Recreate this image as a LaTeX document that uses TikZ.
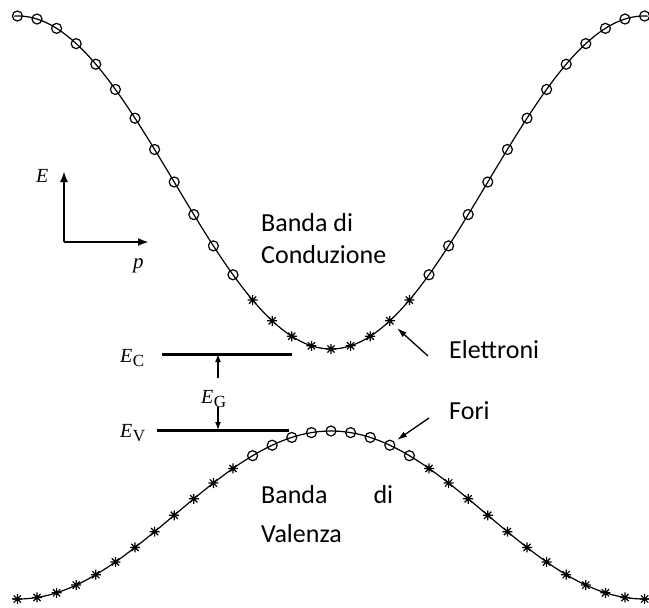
\documentclass[tikz,border=0pt]{standalone}
\usepackage{fontspec}
\setsansfont{Carlito}
\newfontfamily\timesfont{Liberation Serif}
\usetikzlibrary{arrows.meta}
\newcommand{\lev}[2]{\textit{#1}\kern0.5pt\raisebox{-4.5pt}{\fontsize{17}{17}\selectfont #2}}
\tikzset{
  >=Latex,
  band/.style={line width=1.2pt},
  level/.style={line width=3pt},
  axis/.style={->,line width=2pt,>={Latex[length=11pt,width=8pt]}},
  gaparr/.style={->,line width=1.5pt,>={Latex[length=8pt,width=6pt]}},
  pointer/.style={->,line width=1.3pt,>={Latex[length=10pt,width=6pt]}},
  lbl/.style={font=\sffamily\fontsize{26}{30}\selectfont,anchor=base west,inner sep=0pt},
  sym/.style={font=\timesfont\fontsize{20}{22}\selectfont,anchor=base west,inner sep=0pt},
  hole/.style={circle,draw,line width=1.2pt,minimum size=10pt,inner sep=0pt},
  elstar/.pic={
    \draw[line width=1.2pt] (-5,0) -- (5,0) (0,-5) -- (0,5)
      (-3.6,-3.6) -- (3.6,3.6) (-3.6,3.6) -- (3.6,-3.6);
  }
}

\begin{document}
\begin{tikzpicture}[x=1pt,y=-1pt]
  \useasboundingbox (0,0) rectangle (649,608);

  % bands (phase 180/313 deg per px)
  \draw[band] plot[domain=14:648,samples=140,smooth] (\x,{182.5+166.5*cos(0.57508*(\x-331))});
  \draw[band] plot[domain=12:649,samples=140,smooth] (\x,{515-84*cos(0.57508*(\x-331))});

  % carriers on the bands
  \foreach \i in {0,...,32}{
    \pgfmathsetmacro\px{17.4+19.6*\i}
    \pgfmathsetmacro\cy{182.5+166.5*cos(0.57508*(\px-331))}
    \pgfmathsetmacro\vy{515-84*cos(0.57508*(\px-331))}
    \pgfmathtruncatemacro\mid{(\i>11)&&(\i<21)}
    \ifnum\mid=1
      \pic (c\i) at (\px,\cy) {elstar};
      \node[hole] (v\i) at (\px,\vy) {};
    \else
      \node[hole] (c\i) at (\px,\cy) {};
      \pic (v\i) at (\px,\vy) {elstar};
    \fi
  }

  % axes
  \coordinate (origin) at (64,242);
  \coordinate (eaxis) at (64,171);
  \coordinate (paxis) at (149,242);
  \draw[axis] (origin) -- (eaxis);
  \draw[axis] (origin) -- (paxis);
  \node[sym,font=\timesfont\fontsize{20}{22}\selectfont\itshape] (elab) at (36,182) {E};
  \node[sym,font=\timesfont\fontsize{21}{22}\selectfont\itshape] (plab) at (133,268) {p};

  % levels
  \coordinate (ecL) at (162,354);
  \coordinate (ecR) at (292,354);
  \coordinate (evL) at (157,430);
  \coordinate (evR) at (289,430);
  \draw[level] (ecL) -- (ecR);
  \draw[level] (evL) -- (evR);
  \node[sym] (ec) at (120,362) {\lev{E}{C}};
  \node[sym] (ev) at (120,437) {\lev{E}{V}};
  \node[sym] (eg) at (201,403) {\lev{E}{G}};
  \coordinate (gtop) at (218,378);
  \coordinate (gbot) at (218,407);
  \draw[gaparr] (gtop) -- (gtop |- ecL);
  \draw[gaparr] (gbot) -- (gbot |- evL);

  % labels
  \node[lbl] (cb1) at (261,231) {Banda di};
  \node[lbl] (cb2) at (261,263) {Conduzione};
  \node[lbl] (vb1) at (261,503) {\makebox[132pt][s]{Banda di}};
  \node[lbl] (vb2) at (261,542) {Valenza};
  \node[lbl] (el) at (449,358) {Elettroni};
  \node[lbl] (fo) at (449,419) {Fori};

  % pointers
  \coordinate (etail) at (428,356);
  \coordinate (etip) at (397,328);
  \coordinate (htail) at (429,418);
  \coordinate (htip) at (397,440);
  \draw[pointer] (etail) -- (etip);
  \draw[pointer] (htail) -- (htip);
\end{tikzpicture}
\end{document}
